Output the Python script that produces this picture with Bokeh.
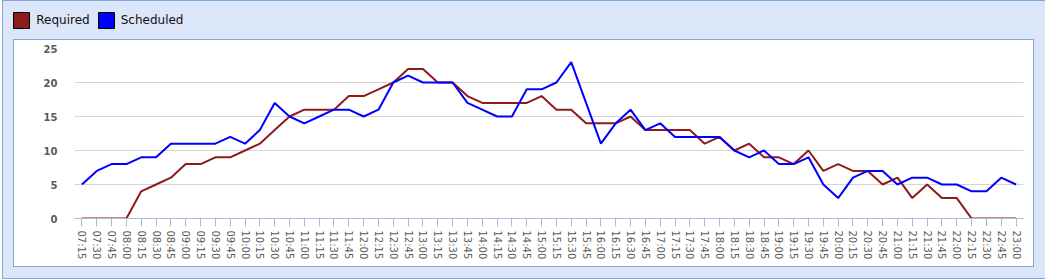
from bokeh.plotting import figure
from bokeh.models import FactorRange, Range1d, Legend, LegendItem, FixedTicker
from bokeh.layouts import column
from bokeh.embed import file_html
from bokeh.resources import INLINE

times = ["07:15", "07:30", "07:45", "08:00", "08:15", "08:30", "08:45", "09:00",
         "09:15", "09:30", "09:45", "10:00", "10:15", "10:30", "10:45", "11:00",
         "11:15", "11:30", "11:45", "12:00", "12:15", "12:30", "12:45", "13:00",
         "13:15", "13:30", "13:45", "14:00", "14:15", "14:30", "14:45", "15:00",
         "15:15", "15:30", "15:45", "16:00", "16:15", "16:30", "16:45", "17:00",
         "17:15", "17:30", "17:45", "18:00", "18:15", "18:30", "18:45", "19:00",
         "19:15", "19:30", "19:45", "20:00", "20:15", "20:30", "20:45", "21:00",
         "21:15", "21:30", "21:45", "22:00", "22:15", "22:30", "22:45", "23:00"]

required = [0, 0, 0, 0, 4, 5, 6, 8, 8, 9, 9, 10, 11, 13, 15, 16,
            16, 16, 18, 18, 19, 20, 22, 22, 20, 20, 18, 17, 17, 17, 17, 18,
            16, 16, 14, 14, 14, 15, 13, 13, 13, 13, 11, 12, 10, 11, 9, 9,
            8, 10, 7, 8, 7, 7, 5, 6, 3, 5, 3, 3, 0, 0, 0, 0]

scheduled = [5, 7, 8, 8, 9, 9, 11, 11, 11, 11, 12, 11, 13, 17, 15, 14,
             15, 16, 16, 15, 16, 20, 21, 20, 20, 20, 17, 16, 15, 15, 19, 19,
             20, 23, 17, 11, 14, 16, 13, 14, 12, 12, 12, 12, 10, 9, 10, 8,
             8, 9, 5, 3, 6, 7, 7, 5, 6, 6, 5, 5, 4, 4, 6, 5]

series_names = ["Required", "Scheduled"]
y_ticks = [0, 5, 10, 15, 20, 25]

RED = "#8e1b1b"
BLUE = "#0000ff"
BG = "#dbe6f8"
BORDER = "#7fa6db"

# ---------------- legend strip ----------------
LW, LH = 1042, 38
lf = figure(width=LW, height=LH, output_backend="svg", toolbar_location=None,
            title=None, x_axis_location=None, y_axis_location=None,
            x_range=Range1d(0, 1), y_range=Range1d(0, 1),
            min_border_left=0, min_border_right=0, min_border_top=0,
            min_border_bottom=0)
lf.border_fill_color = BG
lf.background_fill_color = BG
lf.outline_line_color = None
lf.xgrid.visible = False
lf.ygrid.visible = False
# swatch renderers kept outside the visible range; only their legend glyphs show
r_req = lf.quad(left=[5], right=[6], top=[6], bottom=[5], fill_color=RED, line_color="black")
r_sch = lf.quad(left=[5], right=[6], top=[6], bottom=[5], fill_color=BLUE, line_color="black")
legend = Legend(items=[LegendItem(label=series_names[0], renderers=[r_req]),
                       LegendItem(label=series_names[1], renderers=[r_sch])],
                orientation="horizontal", location=(8.3, 9.3),
                glyph_width=20, glyph_height=20, label_standoff=5, spacing=6,
                padding=0, margin=0, border_line_color=None,
                background_fill_alpha=0, label_text_font="DejaVu Sans",
                label_text_font_size="12px", label_text_color="#111111",
                label_height=20)
lf.add_layout(legend)

# ---------------- main chart ----------------
W, H = 1019, 226
F_LEFT, F_RIGHT, F_TOP, F_BOTTOM = 60, 1009, 8, 178

p = figure(width=W, height=H, x_range=FactorRange(*times, range_padding=0),
           y_range=Range1d(0, 25), output_backend="svg", toolbar_location=None,
           title=None, min_border_left=F_LEFT, min_border_right=W - F_RIGHT,
           min_border_top=F_TOP, min_border_bottom=H - F_BOTTOM)
p.border_fill_color = "white"
p.background_fill_color = "white"
p.outline_line_color = None

p.line(x=times, y=required, line_color=RED, line_width=2)
p.line(x=times, y=scheduled, line_color=BLUE, line_width=2)

p.xgrid.grid_line_color = None
p.ygrid.grid_line_color = "#d4d4d4"
p.ygrid.ticker = FixedTicker(ticks=y_ticks)

xa = p.xaxis[0]
xa.axis_line_color = "#a9bcd6"
xa.major_tick_line_color = "#a9bcd6"
xa.major_tick_in = 0
xa.major_tick_out = 8
xa.minor_tick_line_color = None
xa.major_label_orientation = "vertical"
xa.major_label_text_font = "DejaVu Sans"
xa.major_label_text_font_size = "10px"
xa.major_label_text_color = "#5a5a5a"
xa.major_label_standoff = 4

ya = p.yaxis[0]
ya.ticker = FixedTicker(ticks=y_ticks)
ya.axis_line_color = None
ya.major_tick_line_color = None
ya.minor_tick_line_color = None
ya.major_tick_in = 0
ya.major_tick_out = 0
ya.major_label_text_font = "DejaVu Sans"
ya.major_label_text_font_size = "10px"
ya.major_label_text_font_style = "bold"
ya.major_label_text_color = "#5a5a5a"
ya.major_label_standoff = 17

panel = column(p, margin=(0, 0, 11, 10),
               styles={"border": f"1px solid {BORDER}", "background-color": "white"})

root = column(lf, panel, margin=(0, 0, 0, 2),
              styles={"background-color": BG,
                      "border-top": f"1px solid {BORDER}",
                      "border-left": f"1px solid {BORDER}",
                      "border-bottom": f"1px solid {BORDER}"})

open("out.html", "w").write(file_html(root, INLINE))
